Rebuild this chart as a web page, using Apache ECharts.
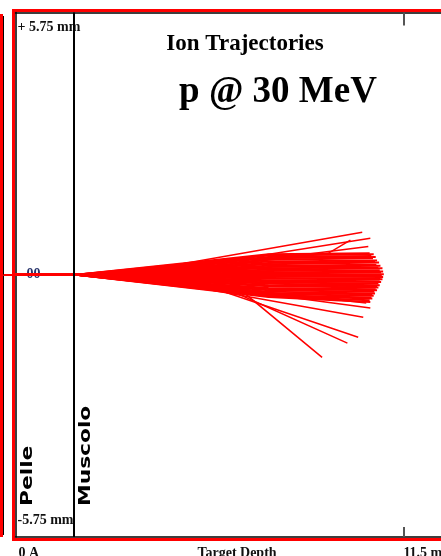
<!DOCTYPE html>
<html>
<head>
<meta charset="utf-8">
<script src="https://cdn.jsdelivr.net/npm/echarts@6/dist/echarts.min.js"></script>
<style>
  html, body { margin: 0; padding: 0; background: #fff; }
  #chart { width: 441px; height: 556px; }
</style>
</head>
<body>
<div id="chart"></div>
<script>
// axis ticks (mm)
const depthTicks = [0, 11.5]
const depthTickLabels = ['0 A', '11.5 mm']
const lateralTicks = [-5.75, 0, 5.75]
const lateralTickLabels = ['-5.75 mm', '00', '+ 5.75 mm']

// target layers: name and depth where each one starts (mm)
const layerNames = ['Pelle', 'Muscolo']
const layerStarts = [0, 1.72]

// the beam stays collimated up to this point, then fans out
const beamEntry = [1.8, 0]

// dense core of the beam: origin -> entry -> mid point -> stop point
const coreMidDepth = 7.5
const coreMidLat = [0.45, 0.42, 0.39, 0.36, 0.33, 0.29, 0.26, 0.23, 0.2, 0.17, 0.14, 0.11,
  0.08, 0.05, 0.03, 0.0, -0.02, -0.04, -0.07, -0.09, -0.12, -0.14, -0.17, -0.2,
  -0.23, -0.25, -0.29, -0.31, -0.34, -0.37, -0.4, -0.42, -0.45, -0.46, -0.47, -0.49]
const coreEndDepth = [10.5, 10.62, 10.55, 10.68, 10.6, 10.72, 10.66, 10.78, 10.7, 10.82, 10.76, 10.88,
  10.8, 10.9, 10.84, 10.92, 10.86, 10.9, 10.82, 10.88, 10.8, 10.84, 10.76, 10.8,
  10.72, 10.76, 10.68, 10.72, 10.64, 10.66, 10.58, 10.62, 10.55, 10.58, 10.5, 10.52]
const coreEndLat = [0.47, 0.45, 0.41, 0.39, 0.36, 0.31, 0.29, 0.27, 0.22, 0.2, 0.16, 0.14,
  0.1, 0.07, 0.05, 0.01, -0.02, -0.05, -0.08, -0.1, -0.14, -0.16, -0.19, -0.23,
  -0.25, -0.28, -0.32, -0.34, -0.37, -0.41, -0.43, -0.46, -0.5, -0.52, -0.56, -0.6]

// scattered tracks that leave the core (points after the beam entry)
const strayTracks = [
  [[3.09, 0], [10.28, 0.93]],
  [[3.68, 0], [10.52, 0.8]],
  [[4.87, 0.1], [10.46, 0.62]],
  [[6.0, 0.2], [9.27, 0.47], [9.93, 0.76]],
  [[4.28, -0.12], [10.4, -0.62]],
  [[5.47, -0.23], [10.52, -0.73]],
  [[5.17, -0.25], [10.31, -0.93]],
  [[5.77, -0.27], [10.16, -1.37]],
  [[6.36, -0.34], [9.84, -1.5]],
  [[6.57, -0.27], [9.09, -1.81]],
]

const coreTracks = coreEndDepth.map((d, i) => [
  [0, 0],
  beamEntry,
  [coreMidDepth, coreMidLat[i]],
  [d, coreEndLat[i]],
])

const serif = 'Liberation Serif'
const chart = echarts.init(document.getElementById('chart'))

const labelStyle = { fontFamily: serif, fontWeight: 'bold', fontSize: 14, color: '#111' }

const frames = [
  { id: 'sideBox', type: 'rect', shape: { x: 0, y: 14, width: 3, height: 523 }, style: { fill: '#ff0000' } },
  { id: 'sideLine', type: 'line', shape: { x1: 3.5, y1: 16, x2: 3.5, y2: 535 }, style: { stroke: '#000', lineWidth: 1 } },
  { id: 'frame', type: 'rect', shape: { x: 13.5, y: 10.5, width: 460, height: 529 },
    style: { fill: 'none', stroke: '#ff0000', lineWidth: 3 } },
]

const option = {
  animation: false,
  title: [
    {
      text: 'Ion Trajectories', left: 240, top: 28, textAlign: 'center',
      textStyle: { fontFamily: serif, fontWeight: 'bold', fontSize: 23, color: '#000' },
    },
    {
      text: 'p @ 30 MeV', left: 273, top: 69, textAlign: 'center',
      textStyle: { fontFamily: serif, fontWeight: 'bold', fontSize: 37, color: '#000' },
    },
  ],
  grid: { left: 15.5, top: 12.5, width: 426, bottom: 19, outerBoundsMode: 'none', containLabel: false },
  xAxis: [
    {
      type: 'value', min: 0, max: 12.63, position: 'bottom',
      axisLine: { show: true, onZero: false, lineStyle: { color: '#000', width: 1.5 } },
      axisTick: { show: true, inside: true, length: 10, customValues: [11.5], lineStyle: { color: '#555', width: 2 } },
      axisLabel: {
        customValues: depthTicks, align: 'left', margin: 9, ...labelStyle,
        formatter: (v) => (v === 0 ? '{first|' : '{last|') + depthTickLabels[depthTicks.indexOf(v)] + '}',
        rich: {
          first: { ...labelStyle, padding: [0, 0, 0, 3] },
          last: { ...labelStyle },
        },
      },
      splitLine: { show: false },
      name: 'Target Depth', nameLocation: 'middle', nameGap: 9, nameMoveOverlap: false,
      nameTextStyle: { ...labelStyle, verticalAlign: 'top', padding: [0, 0, 0, 17] },
    },
    {
      type: 'value', min: 0, max: 12.63, position: 'top',
      axisLine: { show: true, onZero: false, lineStyle: { color: '#000', width: 1.5 } },
      axisTick: { show: true, inside: true, length: 13, customValues: [11.5], lineStyle: { color: '#555', width: 2 } },
      axisLabel: { show: false },
      splitLine: { show: false },
    },
  ],
  yAxis: {
    type: 'value', min: -5.75, max: 5.75,
    axisLine: { show: true, onZero: false, lineStyle: { color: '#000', width: 1.5 } },
    axisTick: { show: true, customValues: [0], length: 12, lineStyle: { color: '#ff0000', width: 2 } },
    axisLabel: {
      inside: true, margin: 2, customValues: lateralTicks, showMinLabel: true, showMaxLabel: true,
      ...labelStyle,
      formatter: (v) => {
        const i = lateralTicks.indexOf(v)
        return '{' + ['bot', 'mid', 'top'][i] + '|' + lateralTickLabels[i] + '}'
      },
      rich: {
        top: { ...labelStyle, padding: [30, 0, 0, 0] },
        bot: { ...labelStyle, padding: [0, 0, 34, 0] },
        mid: { ...labelStyle, color: '#26336b', padding: [0, 0, 0, 9] },
      },
    },
    splitLine: { show: false },
  },
  graphic: frames,
  series: [
    {
      type: 'lines',
      coordinateSystem: 'cartesian2d',
      polyline: true,
      silent: true,
      lineStyle: { color: '#ff0000', width: 2, opacity: 1 },
      data: coreTracks.map((c) => ({ coords: c }))
        .concat(strayTracks.map((c) => ({ coords: [[0, 0], beamEntry].concat(c), lineStyle: { width: 1.5 } }))),
    },
    {
      // layer boundaries
      type: 'line',
      data: [],
      markLine: {
        silent: true,
        symbol: 'none',
        label: { show: false },
        lineStyle: { color: '#000', width: 2, type: 'solid' },
        data: layerStarts.slice(1).map((v) => ({ xAxis: v })),
      },
    },
  ],
}

chart.setOption(option)

// layer names, written upward just right of each layer start
const yBottom = chart.convertToPixel({ yAxisIndex: 0 }, -5.75)
chart.setOption({
  graphic: frames.concat(layerNames.map((n, i) => ({
    id: 'layer' + i,
    type: 'text',
    x: chart.convertToPixel({ xAxisIndex: 0 }, layerStarts[i]) + 12.5,
    y: yBottom - 31,
    rotation: Math.PI / 2,
    scaleX: 1.45,
    style: { text: n, font: 'bold 15px "DejaVu Sans"', fill: '#000', textAlign: 'left', textVerticalAlign: 'middle' },
  }))),
})
</script>
</body>
</html>
